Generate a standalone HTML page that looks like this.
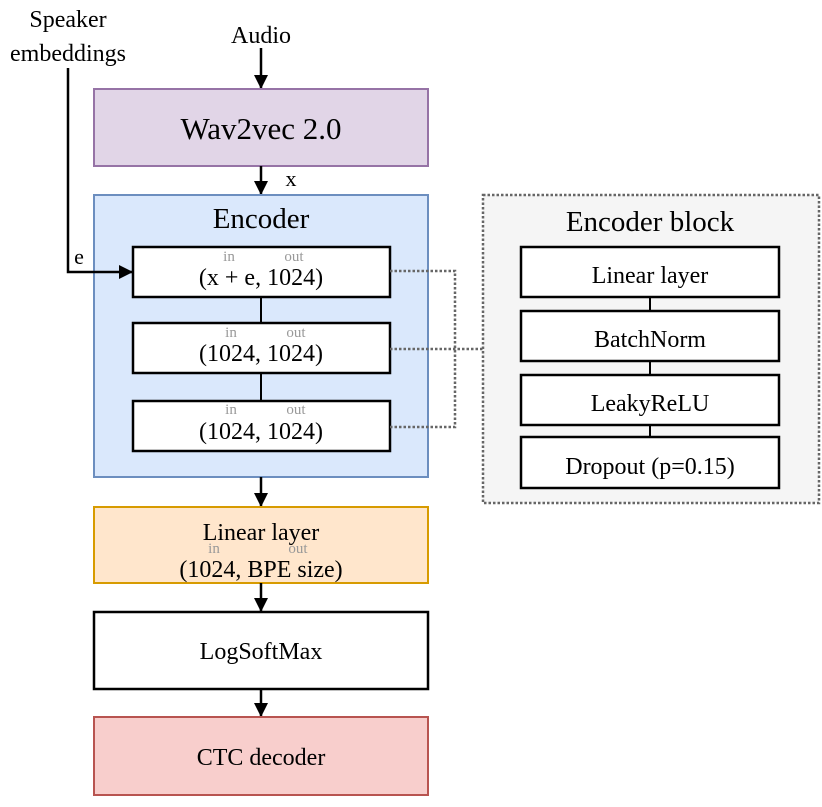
<!DOCTYPE html>
<html><head><meta charset="utf-8"><style>
html,body{margin:0;padding:0;background:#fff;}
svg{display:block;}
text{font-family:"Liberation Serif",serif;fill:#000;}
.s{fill:#999;font-size:15px;}
</style></head><body>
<svg width="822" height="807" viewBox="0 0 822 807" xmlns="http://www.w3.org/2000/svg">
<defs>
<marker id="a" markerWidth="14" markerHeight="14" refX="13" refY="7" orient="auto" markerUnits="userSpaceOnUse" viewBox="0 0 14 14">
<path d="M0,0 L14,7 L0,14 z" fill="#000"/></marker>
</defs>
<text x="68" y="27" font-size="24" text-anchor="middle">Speaker</text>
<text x="68" y="61" font-size="24" text-anchor="middle">embeddings</text>
<text x="261" y="43" font-size="24" text-anchor="middle">Audio</text>
<line x1="261" y1="48" x2="261" y2="88" stroke="#000" stroke-width="2.5" marker-end="url(#a)"/>
<rect x="94" y="89" width="334" height="77" fill="#e1d5e7" stroke="#9673a6" stroke-width="2"/>
<text x="261" y="139" font-size="31" text-anchor="middle">Wav2vec 2.0</text>
<line x1="261" y1="166" x2="261" y2="194" stroke="#000" stroke-width="2.5" marker-end="url(#a)"/>
<text x="291" y="186" font-size="22" text-anchor="middle">x</text>
<rect x="94" y="195" width="334" height="282" fill="#dae8fc" stroke="#6c8ebf" stroke-width="2"/>
<text x="261" y="228" font-size="29" text-anchor="middle">Encoder</text>
<polyline points="68,68 68,272 132,272" fill="none" stroke="#000" stroke-width="2.5" marker-end="url(#a)"/>
<text x="79" y="264" font-size="22" text-anchor="middle">e</text>
<line x1="261" y1="297" x2="261" y2="323" stroke="#000" stroke-width="2"/>
<line x1="261" y1="373" x2="261" y2="401" stroke="#000" stroke-width="2"/>
<rect x="133" y="247" width="257" height="50" fill="#fff" stroke="#000" stroke-width="2.5"/>
<text x="229" y="261" class="s" text-anchor="middle">in</text><text x="294" y="261" class="s" text-anchor="middle">out</text>
<text x="261" y="285" font-size="24" text-anchor="middle">(x + e, 1024)</text>
<rect x="133" y="323" width="257" height="50" fill="#fff" stroke="#000" stroke-width="2.5"/>
<text x="231" y="337" class="s" text-anchor="middle">in</text><text x="296" y="337" class="s" text-anchor="middle">out</text>
<text x="261" y="361" font-size="24" text-anchor="middle">(1024, 1024)</text>
<rect x="133" y="401" width="257" height="50" fill="#fff" stroke="#000" stroke-width="2.5"/>
<text x="231" y="414" class="s" text-anchor="middle">in</text><text x="296" y="414" class="s" text-anchor="middle">out</text>
<text x="261" y="439" font-size="24" text-anchor="middle">(1024, 1024)</text>
<polyline points="390,271 455,271 455,427 390,427" fill="none" stroke="#666" stroke-width="2.5" stroke-dasharray="2.5,2"/>
<line x1="390" y1="349" x2="483" y2="349" stroke="#666" stroke-width="2.5" stroke-dasharray="2.5,2"/>
<rect x="483" y="195" width="336" height="308" fill="#f5f5f5" stroke="#666" stroke-width="2.5" stroke-dasharray="2.5,2"/>
<text x="650" y="231" font-size="29" text-anchor="middle">Encoder block</text>
<line x1="650" y1="297" x2="650" y2="437" stroke="#000" stroke-width="2"/>
<rect x="521" y="247" width="258" height="50" fill="#fff" stroke="#000" stroke-width="2.5"/>
<text x="650" y="283" font-size="24" text-anchor="middle">Linear layer</text>
<rect x="521" y="311" width="258" height="50" fill="#fff" stroke="#000" stroke-width="2.5"/>
<text x="650" y="347" font-size="24" text-anchor="middle">BatchNorm</text>
<rect x="521" y="375" width="258" height="50" fill="#fff" stroke="#000" stroke-width="2.5"/>
<text x="650" y="411" font-size="24" text-anchor="middle">LeakyReLU</text>
<rect x="521" y="437" width="258" height="51" fill="#fff" stroke="#000" stroke-width="2.5"/>
<text x="650" y="474" font-size="24" text-anchor="middle">Dropout (p=0.15)</text>
<line x1="261" y1="477" x2="261" y2="506" stroke="#000" stroke-width="2.5" marker-end="url(#a)"/>
<rect x="94" y="507" width="334" height="76" fill="#ffe6cc" stroke="#d79b00" stroke-width="2"/>
<text x="261" y="540" font-size="24" text-anchor="middle">Linear layer</text>
<text x="214" y="553" class="s" text-anchor="middle">in</text><text x="298" y="553" class="s" text-anchor="middle">out</text>
<text x="261" y="577" font-size="24" text-anchor="middle">(1024, BPE size)</text>
<line x1="261" y1="583" x2="261" y2="611" stroke="#000" stroke-width="2.5" marker-end="url(#a)"/>
<rect x="94" y="612" width="334" height="77" fill="#fff" stroke="#000" stroke-width="2.5"/>
<text x="261" y="659" font-size="24" text-anchor="middle">LogSoftMax</text>
<line x1="261" y1="689" x2="261" y2="716" stroke="#000" stroke-width="2.5" marker-end="url(#a)"/>
<rect x="94" y="717" width="334" height="78" fill="#f8cecc" stroke="#b85450" stroke-width="2"/>
<text x="261" y="765" font-size="24" text-anchor="middle">CTC decoder</text>
</svg>
</body></html>
